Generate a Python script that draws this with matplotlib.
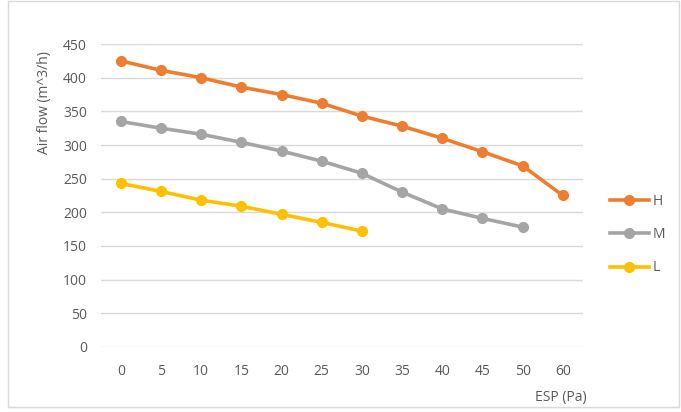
import matplotlib.pyplot as plt
from matplotlib.patches import Rectangle

esp = ['0', '5', '10', '15', '20', '25', '30', '35', '40', '45', '50', '60']
h_flow = [425, 411, 400, 386, 375, 362, 343, 328, 310, 290, 269, 225]
m_flow = [335, 325, 316, 304, 291, 276, 258, 230, 205, 191, 178]
l_flow = [243, 231, 218, 209, 197, 185, 172]

plt.rcParams['font.family'] = ['Open Sans', 'DejaVu Sans']
txt = '#595959'

fig = plt.figure(figsize=(6.81, 4.12), dpi=100)
ax = fig.add_axes([0.148, 0.158, 0.708, 0.735])

x = list(range(len(esp)))
ax.plot(x, h_flow, color='#ED7D31', lw=2.6, marker='o', ms=7, label='H')
ax.plot(x[:len(m_flow)], m_flow, color='#A5A5A5', lw=2.6, marker='o', ms=7, label='M')
ax.plot(x[:len(l_flow)], l_flow, color='#FFC000', lw=2.6, marker='o', ms=7, label='L')

ax.set_xlim(-0.5, len(esp) - 0.5)
ax.set_ylim(0, 450)
ax.set_yticks(range(0, 451, 50))
ax.set_xticks(x)
ax.set_xticklabels(esp)
ax.grid(axis='y', color='#D9D9D9', lw=1)
ax.set_axisbelow(True)
for s in ax.spines.values():
    s.set_visible(False)
ax.tick_params(length=0, labelsize=10, colors=txt, pad=12)
ax.tick_params(axis='y', pad=10)

fig.text(0.065, 0.75, 'Air flow (m^3/h)', rotation=90, ha='center', va='center',
         fontsize=10, color=txt)
fig.text(0.785, 0.035, 'ESP (Pa)', ha='left', va='center', fontsize=10, color=txt)

ax.legend(loc='center left', bbox_to_anchor=(1.03, 0.37), frameon=False,
          fontsize=10, labelcolor=txt, handlelength=2.8, handletextpad=0.3,
          labelspacing=1.3)

fig.patches.append(Rectangle((0.012, 0.012), 0.985, 0.985, transform=fig.transFigure,
                             fill=False, edgecolor='#D9D9D9', lw=1))

fig.savefig('out.png', dpi=100)
